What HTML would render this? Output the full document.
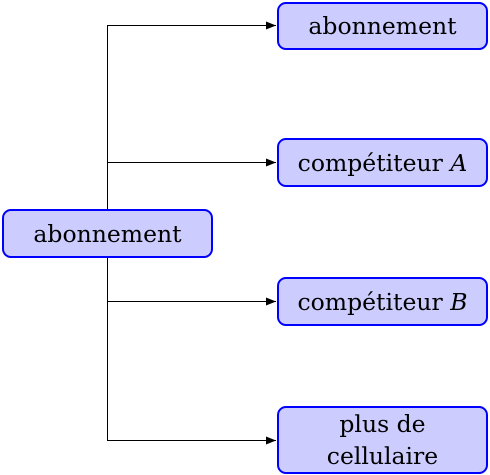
<!DOCTYPE html>
<html><head><style>
body{margin:0;width:490px;height:475px;background:#fff;position:relative;font-family:"DejaVu Serif",serif;overflow:hidden}
.b{position:absolute;box-sizing:border-box;background:#ccccff;border:2px solid #0000ff;border-radius:9px;display:flex;align-items:center;justify-content:center;text-align:center;font-size:23.5px;line-height:32px;color:#000}
svg{position:absolute;left:0;top:0}
</style></head><body>
<svg width="490" height="475">
<defs><marker id="a" markerWidth="10" markerHeight="8" refX="10" refY="4" orient="auto" markerUnits="userSpaceOnUse"><path d="M0,0 L10,4 L0,8 z" fill="#000"/></marker></defs>
<g stroke="#000" stroke-width="1" fill="none">
<line x1="107.5" y1="25" x2="107.5" y2="440"/>
<line x1="107" y1="25.5" x2="276" y2="25.5" marker-end="url(#a)"/>
<line x1="107" y1="162.5" x2="276" y2="162.5" marker-end="url(#a)"/>
<line x1="107" y1="301.5" x2="276" y2="301.5" marker-end="url(#a)"/>
<line x1="107" y1="440.5" x2="276" y2="440.5" marker-end="url(#a)"/>
</g></svg>
<div class="b" style="left:2px;top:209px;width:211px;height:49px">abonnement</div>
<div class="b" style="left:277px;top:2px;width:211px;height:48px">abonnement</div>
<div class="b" style="left:277px;top:138px;width:211px;height:49px">compétiteur&nbsp;<i>A</i></div>
<div class="b" style="left:277px;top:277px;width:211px;height:49px">compétiteur&nbsp;<i>B</i></div>
<div class="b" style="left:277px;top:406px;width:211px;height:68px">plus de<br>cellulaire</div>
</body></html>
